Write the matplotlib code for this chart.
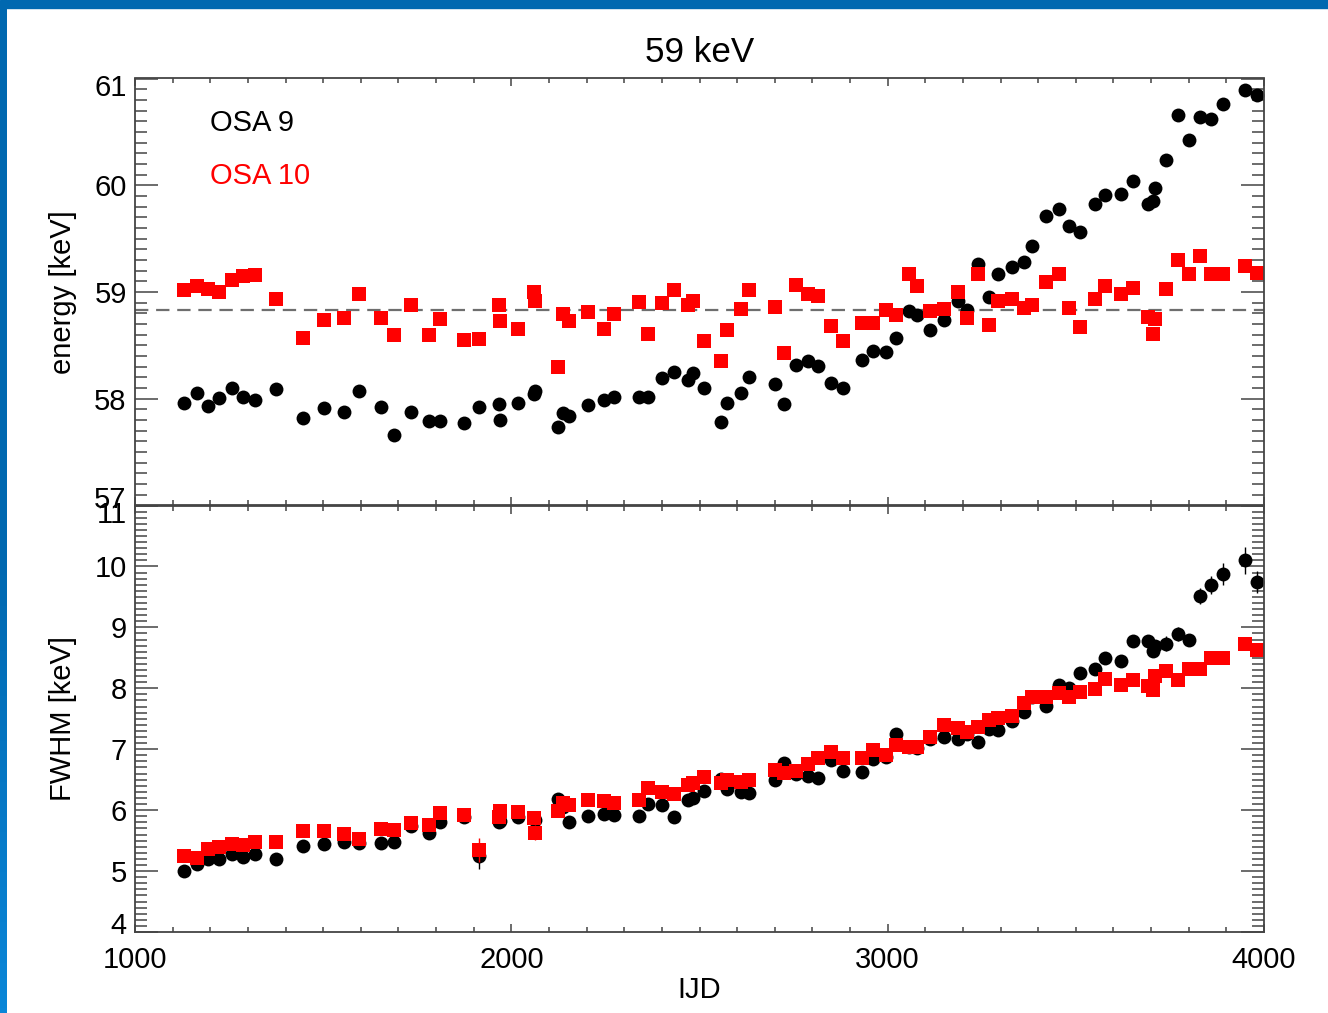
import numpy as np
import matplotlib
matplotlib.use("Agg")
import matplotlib.pyplot as plt
from matplotlib.ticker import MultipleLocator
from matplotlib.patches import Rectangle
from matplotlib.colors import LinearSegmentedColormap
from matplotlib.transforms import ScaledTranslation

# IJD of each observation (shared by both panels and both OSA versions)
ijd = [1131, 1164, 1195, 1223, 1259, 1288, 1319, 1375, 1447, 1503,
       1555, 1596, 1653, 1689, 1733, 1781, 1810, 1875, 1914, 1966,
       1970, 2019, 2059, 2063, 2123, 2138, 2153, 2205, 2246, 2273,
       2339, 2362, 2401, 2432, 2470, 2484, 2513, 2557, 2572, 2610,
       2632, 2701, 2725, 2756, 2789, 2814, 2849, 2880, 2933, 2962,
       2996, 3022, 3057, 3077, 3112, 3151, 3188, 3210, 3239, 3270,
       3292, 3331, 3361, 3383, 3420, 3456, 3482, 3511, 3551, 3578,
       3620, 3651, 3693, 3704, 3711, 3740, 3771, 3801, 3831, 3860,
       3890, 3950, 3981]

energy_osa9 = [57.96, 58.05, 57.93, 58.01, 58.10, 58.02, 57.99, 58.09, 57.82, 57.91,
               57.88, 58.07, 57.92, 57.66, 57.88, 57.79, 57.79, 57.77, 57.92, 57.95,
               57.80, 57.96, 58.04, 58.07, 57.74, 57.87, 57.84, 57.94, 57.99, 58.02,
               58.02, 58.02, 58.19, 58.25, 58.18, 58.24, 58.10, 57.78, 57.96, 58.05,
               58.20, 58.14, 57.95, 58.32, 58.35, 58.31, 58.15, 58.10, 58.36, 58.45,
               58.44, 58.57, 58.82, 58.78, 58.64, 58.74, 58.92, 58.83, 59.26, 58.95,
               59.17, 59.23, 59.28, 59.43, 59.71, 59.78, 59.62, 59.56, 59.82, 59.91,
               59.92, 60.04, 59.82, 59.85, 59.97, 60.24, 60.66, 60.42, 60.64, 60.62,
               60.76, 60.89, 60.85]

energy_osa10 = [59.02, 59.06, 59.03, 59.00, 59.11, 59.15, 59.16, 58.93, 58.57, 58.74,
                58.76, 58.98, 58.76, 58.60, 58.88, 58.60, 58.75, 58.55, 58.56, 58.88,
                58.73, 58.65, 59.00, 58.92, 58.30, 58.79, 58.73, 58.81, 58.65, 58.79,
                58.91, 58.61, 58.90, 59.02, 58.88, 58.92, 58.54, 58.35, 58.64, 58.84,
                59.02, 58.86, 58.43, 59.07, 58.98, 58.96, 58.68, 58.54, 58.71, 58.71,
                58.83, 58.78, 59.17, 59.06, 58.82, 58.84, 59.00, 58.76, 59.17, 58.69,
                58.92, 58.93, 58.85, 58.88, 59.09, 59.17, 58.85, 58.67, 58.93, 59.06,
                58.98, 59.04, 58.77, 58.61, 58.75, 59.03, 59.30, 59.17, 59.34, 59.17,
                59.17, 59.24, 59.18]

fwhm_osa9 = [5.00, 5.11, 5.20, 5.20, 5.28, 5.23, 5.28, 5.19, 5.41, 5.44,
             5.47, 5.46, 5.46, 5.47, 5.74, 5.63, 5.80, 5.89, 5.24, 5.80,
             5.82, 5.88, 5.86, 5.84, 6.19, 6.05, 5.81, 5.91, 5.94, 5.92,
             5.91, 6.10, 6.09, 5.88, 6.17, 6.20, 6.31, 6.51, 6.34, 6.30,
             6.28, 6.50, 6.77, 6.60, 6.56, 6.53, 6.83, 6.65, 6.62, 6.84,
             6.88, 7.25, 7.04, 7.02, 7.16, 7.20, 7.16, 7.25, 7.12, 7.33,
             7.32, 7.46, 7.61, 7.85, 7.71, 8.06, 8.00, 8.25, 8.32, 8.50,
             8.44, 8.77, 8.77, 8.61, 8.70, 8.73, 8.89, 8.79, 9.52, 9.70,
             9.87, 10.10, 9.75]

fwhm_osa10 = [5.25, 5.22, 5.36, 5.39, 5.44, 5.42, 5.47, 5.48, 5.65, 5.65,
              5.61, 5.52, 5.69, 5.67, 5.79, 5.76, 5.95, 5.92, 5.35, 5.88,
              5.99, 5.97, 5.87, 5.63, 5.98, 6.11, 6.08, 6.17, 6.15, 6.11,
              6.17, 6.36, 6.30, 6.26, 6.42, 6.44, 6.54, 6.45, 6.50, 6.47,
              6.49, 6.66, 6.61, 6.65, 6.76, 6.86, 6.95, 6.86, 6.85, 6.99,
              6.91, 7.07, 7.03, 7.03, 7.20, 7.40, 7.35, 7.28, 7.37, 7.48,
              7.51, 7.55, 7.76, 7.86, 7.86, 7.92, 7.86, 7.94, 7.99, 8.16,
              8.05, 8.13, 8.03, 7.98, 8.20, 8.29, 8.14, 8.32, 8.32, 8.49,
              8.49, 8.73, 8.63]

# the few error bars that stick out of the markers
err9_ijd = [1914, 3740, 3771, 3831, 3860, 3890, 3950, 3981]
err9 = [0.20, 0.12, 0.12, 0.13, 0.15, 0.18, 0.22, 0.18]
err10_ijd = [1914, 2063]
err10 = [0.20, 0.12]

energy_ref = 58.83

plt.rcParams["font.family"] = ["Liberation Sans", "DejaVu Sans"]
plt.rcParams["font.size"] = 21

fig = plt.figure(figsize=(13.28, 10.13), dpi=100)
left, right = 135 / 1328, 1264 / 1328
ax1 = fig.add_axes([left, 1 - 505.5 / 1013, right - left, 427 / 1013])
ax2 = fig.add_axes([left, 1 - 932 / 1013, right - left, 426.5 / 1013])

ijd = np.array(ijd)


def err_values(xs, series):
    idx = [int(np.where(ijd == x)[0][0]) for x in xs]
    return np.array(series)[idx]


ax1.plot(ijd, energy_osa9, "o", color="black", ms=10, mew=0)
ax1.plot(ijd, energy_osa10, "s", color="red", ms=10, mew=0)
ax1.axhline(energy_ref, color="#6e6e6e", lw=1.6, ls=(0, (6, 3.5)), zorder=1)

ax2.errorbar(err9_ijd, err_values(err9_ijd, fwhm_osa9), yerr=err9, fmt="none",
             ecolor="black", elinewidth=1)
ax2.plot(ijd, fwhm_osa9, "o", color="black", ms=10, mew=0)
ax2.errorbar(err10_ijd, err_values(err10_ijd, fwhm_osa10), yerr=err10, fmt="none",
             ecolor="red", elinewidth=1)
ax2.plot(ijd, fwhm_osa10, "s", color="red", ms=10, mew=0)

ax1.set_ylim(57, 61)
ax2.set_ylim(4, 11)
for ax in (ax1, ax2):
    ax.set_xlim(1000, 4000)
    ax.xaxis.set_major_locator(MultipleLocator(1000))
    ax.xaxis.set_minor_locator(MultipleLocator(100))
    ax.yaxis.set_major_locator(MultipleLocator(1))
    ax.yaxis.set_minor_locator(MultipleLocator(0.1))
    ax.tick_params(which="both", direction="in", top=True, right=True,
                   color="#444444", width=1.1)
    ax.tick_params(axis="x", which="major", length=6, pad=10)
    ax.tick_params(axis="x", which="minor", length=3.5)
    ax.tick_params(axis="y", which="major", length=16.5, pad=6)
    ax.tick_params(axis="y", which="minor", length=8.5)
    for s in ax.spines.values():
        s.set_color("#444444")
        s.set_linewidth(1.3)
    ax.yaxis.set_label_coords(-0.051, 0.5)

    # end labels sit a little inside the axis range, as in the original
    lo, hi = ax.get_ylim()
    locs = ax.yaxis.get_majorticklocs()
    for loc, tick in zip(locs, ax.yaxis.get_major_ticks(len(locs))):
        if np.isclose(loc, hi):
            dy = -6 / 100
        elif np.isclose(loc, lo):
            dy = 9 / 100
        else:
            continue
        tick.label1.set_transform(tick.label1.get_transform()
                                  + ScaledTranslation(0, dy, fig.dpi_scale_trans))

ax1.tick_params(axis="x", labelbottom=False)
ax1.set_ylabel("energy [keV]")
ax2.set_ylabel("FWHM [keV]")
ax2.set_xlabel("IJD")
ax2.xaxis.set_label_coords(0.5, -0.104)
ax1.set_title("59 keV", pad=12)

ax1.text(0.0664, 0.895, "OSA 9", transform=ax1.transAxes, color="black",
         ha="left", va="center")
ax1.text(0.0664, 0.771, "OSA 10", transform=ax1.transAxes, color="red",
         ha="left", va="center")

# blue slide frame
fig.patches.append(Rectangle((0, 1 - 8 / 1013), 1, 8 / 1013, transform=fig.transFigure,
                             color="#0068b0", zorder=0))
band = fig.add_axes([0, 0, 7 / 1328, 1 - 8 / 1013])
band.axis("off")
cmap = LinearSegmentedColormap.from_list("band", [(0, "#0068b0"), (0.55, "#0068b0"),
                                                  (1, "#0a86d8")])
band.imshow(np.linspace(0, 1, 200)[:, None], cmap=cmap, aspect="auto",
            extent=[0, 1, 0, 1], origin="upper")

fig.savefig("out.png", dpi=100)
